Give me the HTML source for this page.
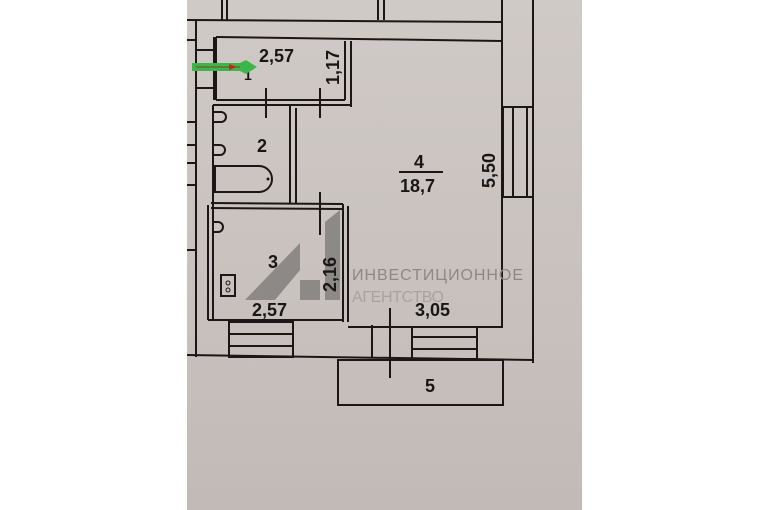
<!DOCTYPE html>
<html><head><meta charset="utf-8"><style>
html,body{margin:0;padding:0;background:#fff;width:770px;height:510px;overflow:hidden}
svg{display:block}
text{font-family:"Liberation Sans",sans-serif;fill:#1a1616;font-weight:bold}
</style></head><body>
<svg width="770" height="510" viewBox="0 0 770 510">
<defs><linearGradient id="g" x1="0" y1="0" x2="0" y2="1"><stop offset="0" stop-color="#d0cac7"/><stop offset="1" stop-color="#c2bab7"/></linearGradient></defs>
<rect x="187" y="0" width="395" height="510" fill="url(#g)"/>
<g stroke="#1c1616" stroke-width="2" fill="none">
<line x1="222" y1="0" x2="222" y2="20"/><line x1="227" y1="0" x2="227" y2="20"/>
<line x1="378" y1="0" x2="378" y2="20"/><line x1="384" y1="0" x2="384" y2="20"/>
<line x1="187" y1="20" x2="502" y2="22"/>
<line x1="502" y1="0" x2="502" y2="327"/>
<line x1="533" y1="0" x2="533" y2="363"/>
<line x1="216" y1="37" x2="502" y2="41"/>
<line x1="196" y1="20" x2="196" y2="357"/>
<line x1="214" y1="37" x2="214" y2="100"/>
<line x1="196" y1="50" x2="214" y2="50"/><line x1="196" y1="88" x2="214" y2="88"/>
<line x1="187" y1="40" x2="196" y2="40"/><line x1="187" y1="122" x2="196" y2="122"/><line x1="187" y1="145" x2="196" y2="145"/><line x1="187" y1="163" x2="196" y2="163"/><line x1="187" y1="185" x2="196" y2="185"/><line x1="187" y1="250" x2="196" y2="250"/>
<line x1="216" y1="37" x2="216" y2="100"/>
<line x1="216" y1="100" x2="345" y2="100"/><line x1="213" y1="105" x2="351" y2="105"/>
<line x1="345" y1="41" x2="345" y2="100"/><line x1="351" y1="41" x2="351" y2="107"/>
<line x1="266" y1="88" x2="266" y2="118"/><line x1="320" y1="88" x2="320" y2="118"/>
<line x1="213" y1="105" x2="213" y2="320"/>
<line x1="290" y1="105" x2="290" y2="203"/><line x1="296" y1="108" x2="296" y2="203"/>
<line x1="211" y1="203" x2="343" y2="204"/><line x1="211" y1="208" x2="343" y2="209"/>
<path d="M215,166 H259 A13,13 0 0 1 259,192 H215 Z" />
<path d="M214,112 h7 a5,5 0 0 1 0,10 h-7"/><path d="M214,145 h6 a4,4 0 0 1 0,10 h-6"/>
<path d="M212,222 h6 a4,4 0 0 1 0,10 h-6"/>
<line x1="208" y1="205" x2="208" y2="320"/>
<line x1="208" y1="320" x2="343" y2="320"/>
<line x1="343" y1="204" x2="343" y2="322"/><line x1="348" y1="206" x2="348" y2="322"/>
<line x1="320" y1="192" x2="320" y2="235"/>
<rect x="221" y="275" width="14" height="21"/>
<line x1="348" y1="327" x2="503" y2="327"/>
<rect x="503" y="107" width="30" height="90"/>
<line x1="513" y1="107" x2="513" y2="197"/><line x1="527" y1="107" x2="527" y2="197"/>
<line x1="187" y1="355" x2="533" y2="360"/>
<rect x="229" y="322" width="64" height="35"/>
<line x1="229" y1="334" x2="293" y2="334"/><line x1="229" y1="346" x2="293" y2="346"/>
<line x1="372" y1="325" x2="372" y2="358"/>
<rect x="412" y="327" width="65" height="32"/>
<line x1="412" y1="337" x2="477" y2="337"/><line x1="412" y1="349" x2="477" y2="349"/>
<line x1="390" y1="308" x2="390" y2="378"/>
<rect x="338" y="360" width="165" height="45"/>
<line x1="399" y1="172" x2="443" y2="172"/>
</g>
<circle cx="228" cy="283" r="2" fill="none" stroke="#1c1616"/><circle cx="228" cy="290" r="2" fill="none" stroke="#1c1616"/>
<circle cx="268" cy="179" r="1.5" fill="#1c1616"/>
<path d="M245,300 L300,243 L300,280 L320,280 L320,300 Z" fill="#7d7a78" opacity="0.8"/>
<path d="M275,300 L300,270 L300,300 Z" fill="#c9c3c0"/>
<path d="M325,222 L340,210 L340,300 L325,300 Z" fill="#7d7a78" opacity="0.8"/>
<text x="352" y="280" style="font-weight:normal;fill:#8d8886;font-size:16px" textLength="171">ИНВЕСТИЦИОННОЕ</text>
<text x="352" y="302" style="font-weight:normal;fill:#a8a3a1;font-size:16px" textLength="92">АГЕНТСТВО</text>
<g font-size="18">
<text x="259" y="62">2,57</text>
<text x="244" y="80" font-size="14">1</text>
<text transform="translate(339,85) rotate(-90)">1,17</text>
<text x="257" y="152">2</text>
<text x="414" y="168">4</text>
<text x="400" y="192">18,7</text>
<text transform="translate(495,188) rotate(-90)">5,50</text>
<text x="268" y="268">3</text>
<text transform="translate(336,292) rotate(-90)">2,16</text>
<text x="252" y="316">2,57</text>
<text x="415" y="316">3,05</text>
<text x="425" y="392">5</text>
</g>
<path d="M192,63 H240 L246,60 L257,67 L246,74 L240,71 H192 Z" fill="#3cb54a"/>
<line x1="196" y1="67" x2="240" y2="67" stroke="#8a3a2a" stroke-width="1"/>
<path d="M229,64 L237,67 L229,70 Z" fill="#d02020"/>
</svg>
</body></html>
